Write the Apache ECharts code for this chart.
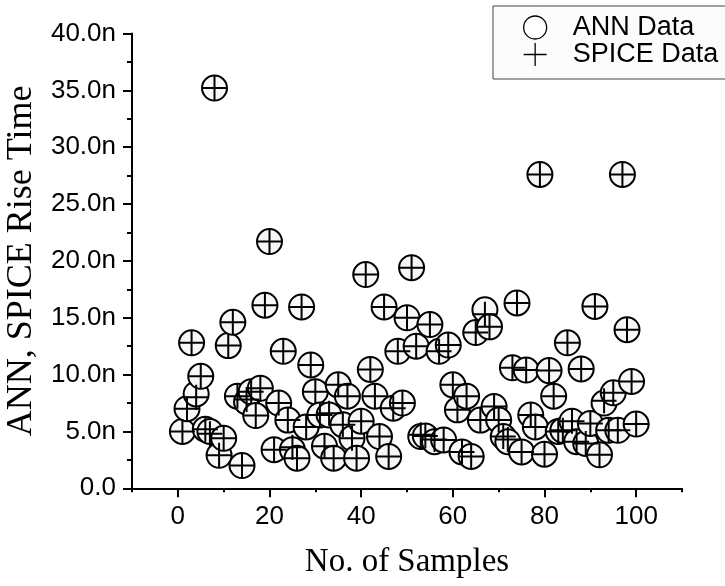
<!DOCTYPE html>
<html>
<head>
<meta charset="utf-8">
<title>ANN vs SPICE Rise Time</title>
<script src="https://cdn.jsdelivr.net/npm/echarts@6/dist/echarts.min.js"></script>
<style>
  html, body { margin: 0; padding: 0; background: #ffffff; }
  #chart { width: 725px; height: 586px; }
</style>
</head>
<body>
<div id="chart"></div>
<script>
// Sample index for each test case
const samples = [
  1, 2, 3, 4, 5, 6, 7, 8, 9, 10,
  11, 12, 13, 14, 15, 16, 17, 18, 19, 20,
  21, 22, 23, 24, 25, 26, 27, 28, 29, 30,
  31, 32, 33, 34, 35, 36, 37, 38, 39, 40,
  41, 42, 43, 44, 45, 46, 47, 48, 49, 50,
  51, 52, 53, 54, 55, 56, 57, 58, 59, 60,
  61, 62, 63, 64, 65, 66, 67, 68, 69, 70,
  71, 72, 73, 74, 75, 76, 77, 78, 79, 80,
  81, 82, 83, 84, 85, 86, 87, 88, 89, 90,
  91, 92, 93, 94, 95, 96, 97, 98, 99, 100
];

// Rise time predicted by the neural network (ns)
const annRise = [
  5.0, 7.0, 12.8, 8.3, 9.85, 5.2, 5.0, 35.2, 2.9, 4.4,
  12.55, 14.6, 8.1, 2.0, 7.6, 8.5, 6.4, 8.8, 16.1, 21.7,
  3.4, 7.5, 12.05, 6.0, 3.4, 2.65, 15.95, 5.4, 10.85, 8.5,
  6.45, 3.7, 6.45, 2.65, 9.1, 5.6, 8.1, 4.4, 2.65, 5.9,
  18.8, 10.45, 8.1, 4.55, 15.95, 2.8, 7.05, 12.05, 7.5, 15.0,
  19.4, 12.5, 4.55, 4.6, 14.4, 4.1, 12.05, 4.25, 12.6, 9.1,
  6.9, 3.2, 8.1, 2.8, 13.7, 6.0, 15.7, 14.2, 7.2, 6.0,
  4.55, 4.1, 10.6, 16.3, 3.2, 10.4, 6.45, 5.4, 27.6, 3.0,
  10.35, 8.1, 5.0, 5.1, 12.8, 5.9, 4.1, 10.5, 3.95, 5.7,
  16.0, 2.95, 7.5, 5.1, 8.4, 5.1, 27.6, 13.95, 9.4, 5.65
];

// Rise time from SPICE simulation (ns)
const spiceRise = [
  5.0, 7.0, 12.8, 8.0, 9.85, 5.2, 4.8, 35.2, 2.9, 4.4,
  12.55, 14.6, 8.1, 2.0, 7.8, 8.5, 6.4, 8.8, 16.1, 21.7,
  3.4, 7.5, 12.05, 6.0, 3.6, 2.65, 15.95, 5.4, 10.85, 8.5,
  6.45, 3.7, 6.6, 2.65, 9.1, 5.6, 8.1, 4.4, 2.65, 5.9,
  18.8, 10.45, 8.1, 4.55, 15.95, 2.8, 7.05, 12.05, 7.5, 15.0,
  19.4, 12.5, 4.7, 4.6, 14.4, 4.3, 12.05, 4.25, 12.6, 9.1,
  6.9, 3.2, 8.1, 2.8, 13.7, 6.0, 15.3, 14.2, 7.2, 6.0,
  4.55, 4.3, 10.6, 16.3, 3.2, 10.4, 6.45, 5.4, 27.6, 3.0,
  10.35, 8.1, 5.0, 5.1, 12.8, 5.9, 4.1, 10.5, 3.95, 5.7,
  16.0, 2.95, 7.7, 5.1, 8.4, 5.1, 27.6, 13.95, 9.4, 5.65
];

// Axis tick positions
const xMajorTicks = [0, 20, 40, 60, 80, 100];
const xMinorTicks = [-10, 10, 30, 50, 70, 90, 110];

const annPoints = samples.map((s, i) => [s, annRise[i]]);
const spicePoints = samples.map((s, i) => [s, spiceRise[i]]);

const sansFont = '"Liberation Sans", Arial, sans-serif';
const serifFont = '"Liberation Serif", "Times New Roman", serif';
const plusPath = 'path://M12,0L12,24M0,12L24,12';

const chart = echarts.init(document.getElementById('chart'), null, { renderer: 'canvas' });

chart.setOption({
  animation: false,
  backgroundColor: '#ffffff',
  grid: {
    left: 132, right: 43, top: 33.5, bottom: 97.7,
    containLabel: false,
    outerBoundsMode: 'none'
  },
  legend: {
    orient: 'vertical',
    left: 493,
    top: 6,
    padding: [8, 24, 11, 30],
    itemGap: 0,
    itemWidth: 23,
    itemHeight: 23,
    backgroundColor: '#fcfcfc',
    borderColor: '#444444',
    borderWidth: 1,
    borderRadius: 0,
    selectedMode: false,
    textStyle: {
      fontFamily: sansFont,
      fontSize: 27,
      color: '#000000',
      lineHeight: 27,
      padding: [0, 0, 0, 21]
    },
    data: [
      { name: 'ANN Data', icon: 'circle', itemStyle: { color: '#ffffff', borderColor: '#000000', borderWidth: 1.3 } },
      { name: 'SPICE Data', icon: plusPath, itemStyle: { color: 'transparent', borderColor: '#000000', borderWidth: 1.3 } }
    ]
  },
  xAxis: [
    {
      type: 'value',
      position: 'bottom',
      min: -10,
      max: 110,
      interval: 10,
      name: 'No. of Samples',
      nameLocation: 'middle',
      nameGap: 58,
      nameTextStyle: { fontFamily: serifFont, fontSize: 33, color: '#000000' },
      splitLine: { show: false },
      axisLine: { show: true, onZero: false, lineStyle: { color: '#000000', width: 2 } },
      axisTick: { show: true, customValues: xMajorTicks, length: 9, lineStyle: { color: '#000000', width: 2 } },
      axisLabel: {
        show: true,
        customValues: xMajorTicks,
        margin: 16,
        fontFamily: sansFont,
        fontSize: 26,
        color: '#000000'
      }
    },
    {
      type: 'value',
      position: 'bottom',
      min: -10,
      max: 110,
      interval: 10,
      splitLine: { show: false },
      axisLine: { show: false, onZero: false },
      axisTick: { show: true, customValues: xMinorTicks, length: 4, lineStyle: { color: '#000000', width: 2 } },
      axisLabel: { show: false }
    }
  ],
  yAxis: {
    type: 'value',
    min: 0,
    max: 40,
    interval: 5,
    name: 'ANN, SPICE Rise Time',
    nameLocation: 'middle',
    nameGap: 90,
    nameRotate: 90,
    nameTextStyle: { fontFamily: serifFont, fontSize: 36, color: '#000000' },
    splitLine: { show: false },
    axisLine: { show: true, onZero: false, lineStyle: { color: '#000000', width: 2 } },
    axisTick: { show: true, length: 9, lineStyle: { color: '#000000', width: 2 } },
    minorTick: { show: true, splitNumber: 2, length: 5, lineStyle: { color: '#000000', width: 2 } },
    axisLabel: {
      margin: 16,
      fontFamily: sansFont,
      fontSize: 26,
      color: '#000000',
      formatter: v => (v === 0 ? '0.0' : v.toFixed(1) + 'n')
    }
  },
  series: [
    {
      name: 'ANN Data',
      type: 'scatter',
      xAxisIndex: 0,
      symbol: 'circle',
      symbolSize: 25,
      itemStyle: { color: '#f7f7f7', borderColor: '#000000', borderWidth: 2, opacity: 1 },
      emphasis: { disabled: true },
      z: 2,
      data: annPoints
    },
    {
      name: 'SPICE Data',
      type: 'scatter',
      xAxisIndex: 0,
      symbol: plusPath,
      symbolSize: 25,
      itemStyle: { color: 'transparent', borderColor: '#000000', borderWidth: 2, opacity: 1 },
      emphasis: { disabled: true },
      z: 3,
      data: spicePoints
    }
  ]
});
</script>
</body>
</html>
